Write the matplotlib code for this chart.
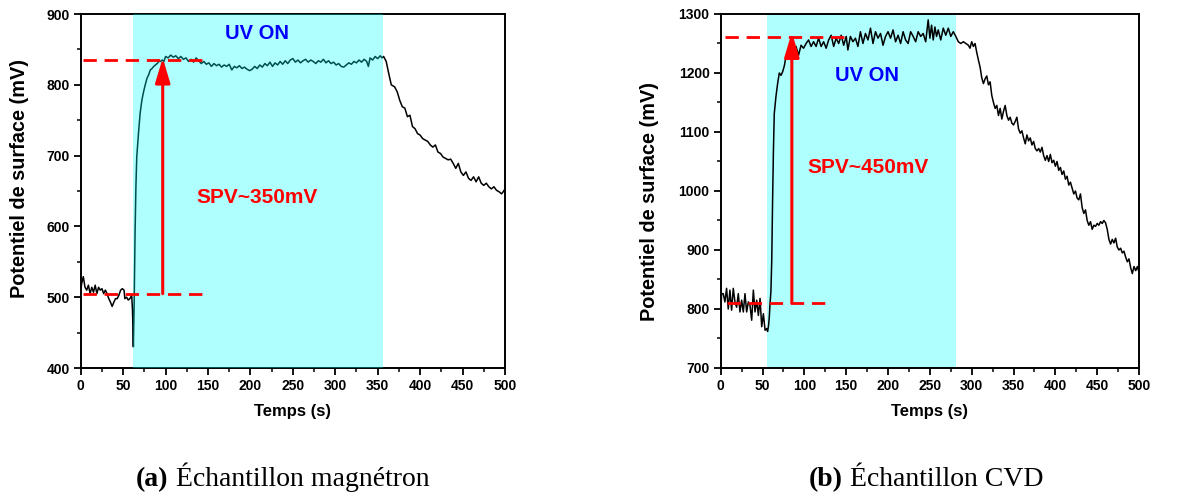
import matplotlib
matplotlib.use("Agg")
import matplotlib.pyplot as plt
from matplotlib.ticker import MultipleLocator

# ---------------- data: (a) magnetron ----------------
t_a = [0, 1, 3, 5, 7, 9, 11, 13, 15, 17, 19, 21, 23, 25, 27, 29, 31, 33, 35, 37,
       39, 41, 43, 45, 47, 49, 51, 52, 54, 56, 58, 60, 61, 62, 63, 64, 65, 66, 68, 70,
       72, 74, 76, 78, 80, 82, 84, 86, 88, 90, 92, 94, 96, 98, 100, 103, 106, 109, 112, 115,
       118, 121, 124, 127, 130, 133, 136, 139, 142, 145, 148, 151, 154, 157, 160, 163, 166, 169, 172, 175,
       178, 181, 184, 187, 190, 193, 196, 199, 202, 205, 208, 211, 214, 217, 220, 223, 226, 229, 232, 235,
       238, 241, 244, 247, 250, 253, 256, 259, 262, 265, 268, 271, 274, 277, 280, 283, 286, 289, 292, 295,
       298, 301, 304, 307, 310, 313, 316, 319, 322, 325, 328, 331, 334, 337, 339, 341, 344, 347, 350, 353,
       355, 357, 360, 363, 366, 370, 373, 376, 379, 382, 385, 388, 391, 394, 397, 400, 403, 406, 409, 412,
       415, 418, 421, 424, 427, 430, 433, 436, 439, 442, 445, 448, 451, 454, 457, 460, 463, 466, 469, 472,
       475, 478, 481, 484, 487, 490, 493, 496, 498, 500]
v_a = [507, 519, 529, 514, 510, 517, 505, 514, 507, 517, 505, 514, 510, 512, 505, 510, 505, 498, 493, 487,
       493, 498, 498, 503, 510, 512, 510, 498, 500, 496, 498, 503, 481, 430, 496, 590, 656, 698, 731, 760,
       778, 790, 800, 809, 814, 821, 823, 826, 828, 830, 833, 833, 835, 833, 840, 838, 842, 839, 841, 837,
       840, 836, 838, 833, 836, 832, 838, 834, 830, 833, 829, 831, 826, 830, 827, 829, 825, 828, 826, 829,
       821, 826, 824, 827, 823, 825, 822, 820, 822, 826, 823, 828, 825, 830, 827, 832, 826, 831, 828, 833,
       829, 834, 830, 835, 837, 832, 835, 831, 834, 836, 832, 835, 833, 830, 834, 832, 836, 831, 834, 830,
       832, 828, 830, 826, 825, 828, 831, 829, 833, 831, 835, 832, 836, 833, 826, 838, 835, 840, 837, 841,
       838, 840, 833, 816, 800, 797, 790, 778, 769, 767, 755, 757, 741, 738, 731, 729, 724, 722, 720, 715,
       712, 715, 705, 703, 698, 696, 694, 695, 689, 682, 689, 677, 672, 677, 668, 665, 670, 663, 670, 661,
       658, 661, 656, 653, 656, 651, 649, 646, 649, 653]

# ---------------- data: (b) CVD ----------------
t_b = [0, 1, 3, 5, 7, 9, 11, 13, 15, 17, 19, 21, 23, 25, 27, 29, 31, 33, 35, 37,
       39, 41, 43, 45, 47, 49, 51, 53, 55, 56, 57, 58, 59, 60, 61, 62, 63, 64, 66, 68,
       70, 72, 74, 76, 78, 80, 82, 85, 88, 90, 93, 96, 99, 102, 105, 108, 111, 114, 117, 120,
       123, 126, 129, 132, 135, 138, 141, 144, 147, 150, 152, 155, 158, 161, 164, 167, 170, 173, 176, 179,
       182, 185, 188, 191, 194, 197, 200, 203, 206, 209, 212, 215, 218, 221, 224, 227, 230, 233, 236, 239,
       242, 245, 248, 250, 252, 254, 256, 258, 260, 263, 266, 269, 272, 275, 278, 281, 284, 287, 290, 293,
       296, 298, 300, 302, 304, 306, 308, 310, 312, 314, 316, 318, 320, 322, 324, 326, 328, 330, 332, 334,
       336, 338, 340, 342, 344, 346, 348, 350, 352, 354, 356, 358, 360, 362, 364, 366, 368, 370, 372, 374,
       376, 378, 380, 382, 384, 386, 388, 390, 392, 394, 396, 398, 400, 402, 404, 406, 408, 410, 412, 414,
       416, 418, 420, 422, 424, 426, 428, 430, 432, 434, 436, 438, 440, 442, 444, 446, 448, 450, 452, 454,
       456, 458, 460, 462, 464, 466, 468, 470, 472, 474, 476, 478, 480, 482, 484, 486, 488, 490, 492, 494,
       496, 498, 500]
v_b = [786, 826, 826, 812, 835, 800, 832, 798, 835, 812, 803, 826, 795, 815, 795, 826, 795, 812, 806, 781,
       832, 795, 815, 789, 818, 770, 792, 764, 767, 762, 770, 785, 810, 830, 883, 984, 1069, 1131, 1160, 1182,
       1200, 1196, 1202, 1212, 1228, 1235, 1233, 1245, 1239, 1245, 1230, 1247, 1242, 1250, 1256, 1245, 1253, 1245, 1259, 1245,
       1253, 1242, 1256, 1264, 1245, 1259, 1250, 1264, 1247, 1262, 1239, 1262, 1253, 1259, 1245, 1270, 1250, 1267, 1256, 1276,
       1250, 1270, 1259, 1267, 1247, 1262, 1270, 1259, 1273, 1253, 1264, 1250, 1270, 1256, 1250, 1270, 1262, 1253, 1270, 1262,
       1267, 1253, 1290, 1259, 1281, 1256, 1278, 1262, 1273, 1256, 1276, 1264, 1276, 1262, 1270, 1262, 1253, 1250, 1253, 1250,
       1247, 1242, 1253, 1245, 1250, 1235, 1222, 1210, 1192, 1182, 1190, 1195, 1180, 1185, 1162, 1150, 1140, 1145, 1128, 1140,
       1122, 1135, 1145, 1128, 1120, 1125, 1115, 1112, 1118, 1125, 1105, 1098, 1102, 1090, 1080, 1095, 1085, 1090, 1078, 1084,
       1072, 1068, 1072, 1066, 1074, 1060, 1052, 1060, 1050, 1062, 1048, 1052, 1042, 1050, 1035, 1040, 1028, 1034, 1020, 1025,
       1010, 1015, 1005, 995, 1000, 988, 985, 995, 972, 962, 968, 950, 942, 948, 935, 942, 940, 945, 942, 948,
       945, 950, 946, 935, 918, 910, 918, 912, 920, 905, 900, 903, 895, 898, 888, 880, 885, 870, 860, 872,
       865, 872, 862]

xticks = [0, 50, 100, 150, 200, 250, 300, 350, 400, 450, 500]
yticks_a = [400, 500, 600, 700, 800, 900]
yticks_b = [700, 800, 900, 1000, 1100, 1200, 1300]

uv_a = (61.3, 356.6)
uv_b = (55.8, 281.8)
levels_a = (505, 835)
levels_b = (810, 1261)
spv_a = "SPV~350mV"
spv_b = "SPV~450mV"

plt.rcParams['font.family'] = ['Liberation Sans', 'DejaVu Sans']

fig = plt.figure(figsize=(11.79, 5.0), dpi=100)
axA = fig.add_axes([0.0685, 0.264, 0.3598, 0.708])
axB = fig.add_axes([0.6113, 0.264, 0.3548, 0.708])

RED = '#FF0000'
DASH = (0, (4.8, 2.8))


def style(ax, yt, ylim, ylab_xy):
    ax.set_xlim(0, 500)
    ax.set_ylim(*ylim)
    ax.set_xticks(xticks)
    ax.set_yticks(yt)
    ax.xaxis.set_minor_locator(MultipleLocator(25))
    ax.yaxis.set_minor_locator(MultipleLocator(50))
    ax.tick_params(which='major', direction='out', length=5, width=1.3,
                   labelsize=10, top=False, right=False, pad=3)
    ax.tick_params(which='minor', direction='out', length=3, width=1.1,
                   top=False, right=False)
    for lab in ax.get_xticklabels() + ax.get_yticklabels():
        lab.set_fontweight('bold')
    for s in ax.spines.values():
        s.set_linewidth(1.4)
    ax.set_xlabel('Temps (s)', fontsize=12, fontweight='bold', labelpad=8)
    ax.set_ylabel('Potentiel de surface (mV)', fontsize=14.3, fontweight='bold',
                  va='center')
    ax.yaxis.set_label_coords(*ylab_xy)


# ---- (a)
axA.plot(t_a, v_a, color='black', lw=1.1, zorder=2)
axA.axvspan(uv_a[0], uv_a[1], color='#00FFFF', alpha=0.31, lw=0, zorder=3)
axA.plot([2.4, 150], [levels_a[1]] * 2, color=RED, lw=2.0, ls=DASH, zorder=4)
axA.plot([2.4, 150], [levels_a[0]] * 2, color=RED, lw=2.0, ls=DASH, zorder=4)
axA.annotate('', xy=(96.6, levels_a[1] + 3), xytext=(96.6, levels_a[0]),
             arrowprops=dict(arrowstyle='-|>,head_length=1.5,head_width=0.45',
                             color=RED, lw=2.2, shrinkA=0, shrinkB=0), zorder=5)
axA.text(208, 872, 'UV ON', color='#0000FF', fontsize=14.5, fontweight='bold',
         ha='center', va='center', zorder=6)
axA.text(208, 641, spv_a, color=RED, fontsize=15, fontweight='bold',
         ha='center', va='center', zorder=6)
style(axA, yticks_a, (400, 900), (-0.144, 0.534))

# ---- (b)
axB.axvspan(uv_b[0], uv_b[1], color='#B0FFFF', lw=0, zorder=1)
axB.plot(t_b, v_b, color='black', lw=1.1, zorder=2)
axB.plot([5, 155], [levels_b[1]] * 2, color=RED, lw=2.0, ls=DASH, zorder=4)
axB.plot([7, 125], [levels_b[0]] * 2, color=RED, lw=2.0, ls=DASH, zorder=4)
axB.annotate('', xy=(85, levels_b[1] + 8), xytext=(85, levels_b[0]),
             arrowprops=dict(arrowstyle='-|>,head_length=1.5,head_width=0.45',
                             color=RED, lw=2.2, shrinkA=0, shrinkB=0), zorder=5)
axB.text(175, 1195, 'UV ON', color='#0000FF', fontsize=14.5, fontweight='bold',
         ha='center', va='center', zorder=6)
axB.text(176, 1039, spv_b, color=RED, fontsize=15, fontweight='bold',
         ha='center', va='center', zorder=6)
style(axB, yticks_b, (700, 1300), (-0.171, 0.469))

# ---- captions
serif = ['Liberation Serif', 'DejaVu Serif']
ca = fig.text(0.1154, 0.028, '(a)', fontsize=20, fontweight='bold', family=serif, va='baseline')
axA.annotate(' Échantillon magnétron', xy=(1, 0), xycoords=ca, fontsize=20,
             family=serif, va='bottom', ha='left', annotation_clip=False)
cb = fig.text(0.686, 0.028, '(b)', fontsize=20, fontweight='bold', family=serif, va='baseline')
axB.annotate(' Échantillon CVD', xy=(1, 0), xycoords=cb, fontsize=20,
             family=serif, va='bottom', ha='left', annotation_clip=False)

fig.savefig('out.png', dpi=100)
